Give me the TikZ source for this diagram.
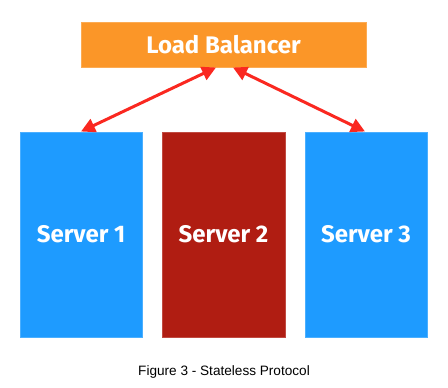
\documentclass[tikz,border=0pt]{standalone}
\usepackage{fontspec}
\setmainfont{Liberation Sans}
\newfontfamily\labfont{Fira Sans}
\usetikzlibrary{arrows.meta}
\definecolor{lborange}{RGB}{251,150,40}
\definecolor{srvblue}{RGB}{30,155,255}
\definecolor{srvred}{RGB}{176,29,18}
\definecolor{arrred}{RGB}{250,40,32}
\tikzset{
  box/.style={draw=#1!80!white, fill=#1, line width=0.6pt, inner sep=0pt, text=white,
    font=\labfont\bfseries\fontsize{24}{28}\selectfont},
  link/.style={draw=arrred, line width=3pt, {Triangle[length=14pt,width=14pt]}-{Triangle[length=14pt,width=14pt]}}
}
\begin{document}
\begin{tikzpicture}[x=1pt,y=-1pt]
\useasboundingbox (0,0) rectangle (448,388);
\node[box=lborange, minimum width=285pt, minimum height=45pt] (lb) at (223.5,44.5) {Load Balancer};
\node[box=srvblue, minimum width=122pt, minimum height=205pt] (s1) at (81,234.5) {Server 1};
\node[box=srvred, minimum width=123pt, minimum height=205pt] (s2) at (223.5,234.5) {Server 2};
\node[box=srvblue, minimum width=122pt, minimum height=205pt] (s3) at (366,234.5) {Server 3};
\coordinate (a1) at (216,67.5);
\coordinate (a2) at (233,67.5);
\coordinate (b1) at (81,131.5);
\coordinate (b3) at (365,131.5);
\draw[link] (b1) -- (a1);
\draw[link] (a2) -- (b3);
\node[font=\fontsize{13.6}{16}\selectfont] (cap) at (224,372) {Figure 3 - Stateless Protocol};
\end{tikzpicture}
\end{document}
